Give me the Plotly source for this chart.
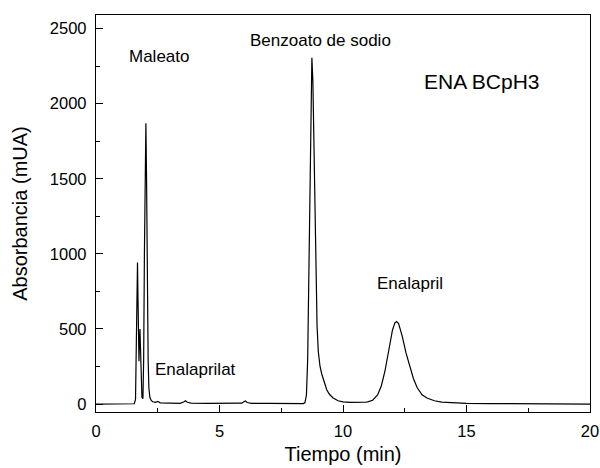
import plotly.graph_objects as go

# Chromatogram trace (time in min, absorbance in mUA)
tiempo = [
    0.0, 0.5, 1.0, 1.5, 1.55,
    1.60, 1.63, 1.66, 1.68, 1.70, 1.72, 1.74, 1.76, 1.78, 1.80, 1.83, 1.86,
    1.90, 1.93, 1.96, 1.99, 2.02, 2.05, 2.08, 2.11, 2.14, 2.18, 2.24,
    2.30, 2.40, 2.50, 2.60, 2.80, 3.00, 3.40, 3.55, 3.62, 3.70, 3.85,
    4.50, 5.00, 5.50, 5.90, 6.00, 6.05, 6.12, 6.30, 7.00, 7.50, 8.00, 8.40,
    8.46, 8.52, 8.57, 8.62, 8.66, 8.70, 8.74, 8.78, 8.82, 8.86, 8.90, 8.95,
    9.00, 9.07, 9.14, 9.24, 9.34, 9.45, 9.60, 9.80, 10.0, 10.3, 10.6, 10.9,
    11.0, 11.2, 11.4, 11.55, 11.7, 11.85, 12.0, 12.1, 12.17, 12.25, 12.4,
    12.55, 12.7, 12.85, 13.0, 13.2, 13.4, 13.7, 14.0, 14.5, 15.0, 16.0,
    17.0, 18.0, 19.0, 20.0,
]
absorbancia = [
    0, 0, 0, 0, 2,
    30, 300, 800, 943, 700, 350, 285, 420, 500, 380, 150, 45,
    35, 300, 1000, 1650, 1870, 1450, 750, 300, 110, 45, 22,
    15, 11, 18, 8, 6, 5, 5, 14, 22, 12, 6,
    5, 5, 5, 6, 17, 20, 10, 5, 4, 3, 3, 3,
    10, 60, 300, 900, 1600, 2150, 2306, 2150, 1750, 1250, 850, 520,
    350, 250, 200, 140, 95, 65, 40, 22, 15, 11, 10, 12,
    14, 25, 60, 120, 220, 360, 490, 540, 549, 535, 450,
    340, 260, 170, 110, 62, 40, 22, 13, 8, 5, 3,
    2, 1, 0, 0,
]

# Peak labels: text, x (min), y (mUA)
picos_texto = ["Maleato", "Enalaprilat", "Benzoato de sodio", "Enalapril"]
picos_x = [2.55, 4.03, 9.07, 12.71]
picos_y = [2315, 227, 2422, 800]

muestra = "ENA BCpH3"

FONT = "Arial, Liberation Sans, sans-serif"

fig = go.Figure()
fig.add_trace(go.Scatter(
    x=tiempo, y=absorbancia, mode="lines",
    line=dict(color="black", width=1.2),
    showlegend=False, hoverinfo="skip",
))

for txt, px, py in zip(picos_texto, picos_x, picos_y):
    fig.add_annotation(x=px, y=py, text=txt, showarrow=False,
                       font=dict(family=FONT, size=17, color="black"))

fig.add_annotation(x=15.63, y=2148, text=muestra, showarrow=False,
                   font=dict(family=FONT, size=21, color="black"))

axis_common = dict(
    showgrid=False, zeroline=False, showline=True, linecolor="black",
    linewidth=1.3, mirror=True, ticks="inside", ticklen=7, tickwidth=1.2,
    tickcolor="black", automargin=False,
    tickfont=dict(family=FONT, size=16.5, color="black"),
)

fig.update_xaxes(
    range=[0, 20], tickvals=[0, 5, 10, 15, 20],
    minor=dict(ticks="inside", ticklen=4, tickwidth=1, tickcolor="black",
               dtick=2.5, tick0=0),
    ticklabelstandoff=4,
    title=dict(text="Tiempo (min)", font=dict(family=FONT, size=20, color="black"),
               standoff=8),
    **axis_common,
)
fig.update_yaxes(
    range=[-53, 2590], tickvals=[0, 500, 1000, 1500, 2000, 2500],
    minor=dict(ticks="inside", ticklen=4, tickwidth=1, tickcolor="black",
               dtick=250, tick0=0),
    ticklabelstandoff=5,
    title=dict(text="Absorbancia (mUA)", font=dict(family=FONT, size=20, color="black"),
               standoff=16),
    **axis_common,
)

fig.update_layout(
    width=600, height=468,
    margin=dict(l=96, r=10, t=15, b=56),
    paper_bgcolor="white", plot_bgcolor="white",
)

fig.write_html("out.html")
